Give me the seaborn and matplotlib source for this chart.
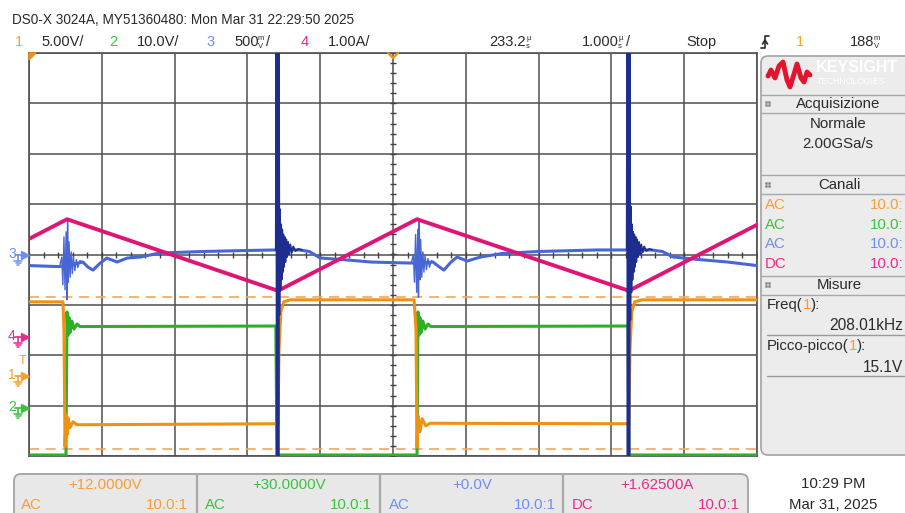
"""
Keysight DSO-X 3024A screen capture redrawn with seaborn/matplotlib.

Time axis is in screen divisions (1.000 us/div), levels are in screen
divisions too (8 vertical divisions, 0 = screen centre).
"""
import numpy as np
import pandas as pd
import matplotlib
matplotlib.use("Agg")
from matplotlib import pyplot, font_manager
from matplotlib.patches import FancyBboxPatch, Polygon
import seaborn

# ---- channel 1 (orange): switch node, 5.00 V/div
ch1_t = [0.00, 0.467, 0.480, 0.495, 0.508, 0.522, 0.536, 0.563, 0.604, 0.660, 3.390,
         3.420, 3.434, 3.460, 3.500, 3.585, 5.290, 5.316, 5.330, 5.343, 5.370, 5.400,
         5.450, 5.510, 8.230, 8.240, 8.255, 8.280, 8.320, 8.420, 10.00]
ch1_v = [-0.94, -0.94, -1.50, -3.82, -3.18, -3.58, -3.24, -3.44, -3.32, -3.38, -3.36,
         -3.36, -1.89, -1.14, -0.94, -0.90, -0.90, -1.50, -3.82, -3.20, -3.52, -3.26,
         -3.40, -3.35, -3.36, -3.36, -1.89, -1.14, -0.94, -0.90, -0.90]

# ---- channel 2 (green): 10.0 V/div
ch2_t = [0.00, 0.508, 0.522, 0.536, 0.550, 0.563, 0.590, 0.618, 0.660, 0.700, 3.390,
         3.407, 5.330, 5.343, 5.357, 5.370, 5.385, 5.410, 5.440, 5.480, 5.520, 8.230,
         8.240, 10.00]
ch2_v = [-3.98, -3.98, -1.14, -1.60, -1.25, -1.55, -1.32, -1.48, -1.38, -1.43, -1.42,
         -3.98, -3.98, -1.14, -1.60, -1.25, -1.55, -1.32, -1.48, -1.38, -1.43, -1.42,
         -3.98, -3.98]

# ---- channel 3 (blue): 500 mV/div, AC coupled
ch3_t = [0.00, 0.20, 0.42, 0.74, 0.81, 0.88, 0.97, 1.07, 1.21, 1.35, 1.53, 1.80, 2.40,
         3.00, 3.39, 3.72, 3.85, 4.00, 4.30, 4.70, 5.25, 5.55, 5.63, 5.70, 5.79, 5.88,
         6.02, 6.20, 6.50, 7.00, 7.80, 8.22, 8.55, 8.70, 8.85, 9.20, 9.60, 10.00]
ch3_v = [-0.22, -0.23, -0.24, -0.15, -0.25, -0.31, -0.18, -0.07, -0.15, -0.07, -0.05,
         0.03, 0.06, 0.08, 0.09, 0.09, 0.06, -0.07, -0.10, -0.15, -0.17, -0.15, -0.24,
         -0.31, -0.16, -0.05, -0.13, -0.05, 0.02, 0.06, 0.09, 0.09, 0.09, 0.06, -0.05,
         -0.10, -0.15, -0.22]

# small ringing bursts on ch3 (turn-off edges)
burst1_t = [0.42, 0.45, 0.465, 0.48, 0.495, 0.51, 0.52, 0.53, 0.54, 0.55, 0.565, 0.58,
            0.595, 0.61, 0.63, 0.65, 0.67, 0.70, 0.74]
burst1_v = [-0.24, -0.05, -0.60, 0.35, -0.70, 0.45, -0.90, 0.70, -0.55, 0.25, -0.45,
            0.05, -0.38, -0.05, -0.32, -0.10, -0.26, -0.12, -0.15]
burst2_t = [5.25, 5.28, 5.295, 5.31, 5.325, 5.34, 5.35, 5.36, 5.37, 5.38, 5.395, 5.41,
            5.425, 5.44, 5.46, 5.48, 5.50, 5.53, 5.55]
burst2_v = [-0.17, 0.00, -0.55, 0.40, -0.75, 0.50, -0.85, 0.70, -0.50, 0.30, -0.45,
            0.05, -0.35, -0.02, -0.30, -0.08, -0.25, -0.12, -0.15]

# big ringing spikes on ch3 (turn-on edges), run off screen
spike1_t = [3.390, 3.397, 3.403, 3.409, 3.415, 3.421, 3.427, 3.433, 3.440, 3.447, 3.455,
            3.463, 3.470, 3.478, 3.486, 3.494, 3.502, 3.512, 3.522, 3.534, 3.546, 3.560,
            3.575, 3.590, 3.610, 3.630, 3.660, 3.700, 3.750]
spike1_v = [0.09, 4.2, -4.2, 4.2, -4.2, 4.2, -4.2, 4.2, -1.2, 0.9, -0.7, 0.6, -0.5, 0.5,
            -0.35, 0.4, -0.25, 0.35, -0.15, 0.3, -0.05, 0.25, 0.0, 0.2, 0.04, 0.16, 0.07,
            0.11, 0.09]
spike2_t = [8.210, 8.217, 8.223, 8.229, 8.235, 8.241, 8.247, 8.253, 8.260, 8.267, 8.275,
            8.283, 8.290, 8.298, 8.306, 8.314, 8.322, 8.332, 8.342, 8.354, 8.366, 8.380,
            8.395, 8.410, 8.430, 8.450, 8.480, 8.520, 8.560]
spike2_v = [0.09, 4.2, -4.2, 4.2, -4.2, 4.2, -4.2, 4.2, -1.3, 0.95, -0.75, 0.6, -0.5,
            0.45, -0.35, 0.4, -0.25, 0.35, -0.15, 0.3, -0.05, 0.25, 0.0, 0.2, 0.04, 0.16,
            0.07, 0.11, 0.09]

# ---- channel 4 (magenta): inductor current, 1.00 A/div
ch4_t = [0.00, 0.522, 3.420, 5.330, 8.240, 10.00]
ch4_v = [0.31, 0.70, -0.72, 0.70, -0.72, 0.59]

# pk-pk measurement markers of ch1
marker_levels = [-0.84, -3.86]

# left side channel reference markers (screen divisions)
ref_labels = ["3", "4", "1", "2"]
ref_levels = [0.00, -1.63, -2.41, -3.04]
trig_level = -2.12

C1, C1T = "#ED9212", "#F5A030"
C2, C2T = "#2FAE2A", "#3CC23C"
C3, C3T = "#4866D6", "#6F8FEF"
C3D = "#1D2E8E"
C4, C4T = "#DF1575", "#EC2A8C"
TXT = "#2A2A2A"
REF_COLORS = [C3T, C4T, C1T, C2T]

seaborn.set_theme(style="white")
installed = {f.name for f in font_manager.fontManager.ttflist}
pyplot.rcParams["font.family"] = ["Liberation Sans", "DejaVu Sans"]
narrow = "Liberation Sans Narrow" in installed

W, H = 905, 513
fig = pyplot.figure(figsize=(W / 100, H / 100), dpi=100)
fig.patch.set_facecolor("white")

ax = fig.add_axes([29 / W, 1 - 456 / H, 728 / W, 403 / H])
ax.set_facecolor("white")
ax.set_xlim(0, 10)
ax.set_ylim(-4, 4)
ax.set_xticks(np.arange(0, 11))
ax.set_yticks(np.arange(-4, 5))
ax.grid(True, color="#505050", lw=1.1)
ax.tick_params(length=0, labelbottom=False, labelleft=False)
for sp in ax.spines.values():
    sp.set_color("#505050")
    sp.set_linewidth(1.2)

# fine graticule ticks on the centre axes
minor = np.arange(0, 10.01, 0.2)
ax.plot(minor, np.zeros_like(minor), ls="none", marker="|", ms=5, mew=1, color="#404040", zorder=1)
minor_y = np.arange(-4, 4.01, 0.2)
ax.plot(np.full_like(minor_y, 5.0), minor_y, ls="none", marker="_", ms=5, mew=1, color="#404040", zorder=1)

for lvl in marker_levels:
    ax.axhline(lvl, color="#F6A65A", lw=1.2, ls=(0, (6, 4)), zorder=2)


def draw(t, v, color, lw, z):
    df = pd.DataFrame({"t": t, "v": v})
    seaborn.lineplot(data=df, x="t", y="v", ax=ax, color=color, lw=lw, sort=False,
                     estimator=None, legend=False, zorder=z)


draw(ch2_t, ch2_v, C2, 2.2, 3)
draw(ch1_t, ch1_v, C1, 2.2, 4)
draw(ch3_t, ch3_v, C3, 2.2, 5)
draw(burst1_t, burst1_v, C3, 1.0, 6)
draw(burst2_t, burst2_v, C3, 1.0, 6)
draw(ch4_t, ch4_v, C4, 2.8, 7)
draw(spike1_t, spike1_v, C3D, 1.3, 8)
draw(spike2_t, spike2_v, C3D, 1.3, 8)
ax.set_xlabel("")
ax.set_ylabel("")

# ---- overlay in pixel units for all the screen furniture
ui = fig.add_axes([0, 0, 1, 1], zorder=5)
ui.set_xlim(0, W)
ui.set_ylim(H, 0)
ui.axis("off")
ui.patch.set_alpha(0)

FS = 10.8


def txt(x, y, s, color=TXT, ha="left", fs=FS, **kw):
    return ui.text(x, y, s, color=color, ha=ha, va="center", fontsize=fs, **kw)


def stacked(x, y, top, bottom, color=TXT):
    txt(x, y - 4, top, color=color, fs=5.5)
    txt(x, y + 4, bottom, color=color, fs=5.5)


if narrow:
    txt(12, 20, "DS0-X 3024A, MY51360480: Mon Mar 31 22:29:50 2025",
        family=["Liberation Sans Narrow", "DejaVu Sans"], fs=11.3)
else:
    txt(12, 20, "DS0-X 3024A, MY51360480: Mon Mar 31 22:29:50 2025", fs=9.8)

y2 = 42
txt(15, y2, "1", C1T, fs=10.5)
txt(41, y2, "5.00V/", fs=10.5)
txt(109, y2, "2", C2T, fs=10.5)
txt(137, y2, "10.0V/", fs=10.5)
txt(206, y2, "3", C3T, fs=10.5)
txt(234, y2, "500", fs=10.5)
stacked(258, y2, "m", "V")
txt(266, y2, "/", fs=10.5)
txt(301, y2, "4", C4T, fs=10.5)
txt(328, y2, "1.00A/", fs=10.5)
txt(489, y2, "233.2", fs=10.5)
stacked(526, y2, "µ", "s")
txt(582, y2, "1.000", fs=10.5)
stacked(618, y2, "µ", "s")
txt(626, y2, "/", fs=10.5)
txt(686, y2, "Stop", fs=10.5)
ui.plot([761, 765, 765, 769], [48, 48, 36, 36], color=TXT, lw=1.2)
ui.plot([762.5, 765, 767.5], [44, 40, 44], color=TXT, lw=1.2)
txt(796, y2, "1", C1T, fs=10.5)
txt(850, y2, "188", fs=10.5)
stacked(874, y2, "m", "V")

# trigger markers on the graticule edge
ui.add_patch(Polygon([[29, 53], [36, 53], [29, 60]], closed=True, color=C1, zorder=6))
ui.plot([388, 393, 398], [53, 58, 53], color=C1, lw=1.6)

# channel reference markers at the left
for lab, lvl, col in zip(ref_labels, ref_levels, REF_COLORS):
    y = 254.5 - lvl * 50.4
    txt(8, y - 1, lab, col, fs=10)
    ui.plot([15, 24], [y, y], color=col, lw=1.2)
    ui.plot([18, 18], [y, y + 6], color=col, lw=1.2)
    ui.plot([14, 22], [y + 6, y + 6], color=col, lw=1.1)
    ui.plot([15.5, 20.5], [y + 8, y + 8], color=col, lw=1.1)
    ui.plot([17, 19], [y + 10, y + 10], color=col, lw=1.1)
    ui.plot([25], [y], marker=">", ms=6, color=col, ls="none")
yt = 254.5 - trig_level * 50.4
txt(19, yt, "T", C1T, fs=9)

# ---- right hand side panel
ui.add_patch(FancyBboxPatch((761, 56), 170, 399, boxstyle="round,pad=0,rounding_size=7",
                            fc="#ECECEC", ec="#A2A2A2", lw=1.2))
logo_x = [768, 771, 775, 779, 783, 787, 790, 794, 797, 801, 804, 807, 810]
logo_y = [76, 70, 78, 66, 62, 80, 87, 74, 64, 78, 82, 72, 75]
ui.plot(logo_x, logo_y, color="#E2142E", lw=3.5, solid_capstyle="round", solid_joinstyle="round")
txt(816, 67, "KEYSIGHT", "white", fs=11.5, fontweight="bold")
txt(817, 81, "TECHNOLOGIES", "white", fs=6.2)

for yy in [95, 113, 175, 194, 276, 295]:
    ui.plot([761, 905], [yy, yy], color="#A8A8A8", lw=1)
for yy in [335, 376]:
    ui.plot([767, 905], [yy, yy], color="#9A9A9A", lw=1)
for yy in [104, 185, 285]:
    for dx in (0, 3):
        for dy in (-2, 1):
            ui.plot([766 + dx], [yy + dy], marker="s", ms=0.9, color="#888888")

txt(838, 104, "Acquisizione", ha="center")
txt(838, 124, "Normale", ha="center")
txt(838, 144, "2.00GSa/s", ha="center")
txt(839, 185, "Canali", ha="center")
for yy, cpl, col in zip([205, 225, 244, 264], ["AC", "AC", "AC", "DC"], [C1T, C2T, C3T, C4T]):
    txt(765, yy, cpl, col)
    txt(903, yy, "10.0:", col, ha="right")
txt(839, 285, "Misure", ha="center")
t1 = txt(767, 305, "Freq(")
a = ui.annotate("1", xy=(1, 0.5), xycoords=t1, va="center", color=C1T, fontsize=FS)
ui.annotate("):", xy=(1, 0.5), xycoords=a, va="center", color=TXT, fontsize=FS)
txt(903, 326, "208.01kHz", fs=11.2, ha="right")
t2 = txt(767, 346, "Picco-picco(")
b = ui.annotate("1", xy=(1, 0.5), xycoords=t2, va="center", color=C1T, fontsize=FS)
ui.annotate("):", xy=(1, 0.5), xycoords=b, va="center", color=TXT, fontsize=FS)
txt(903, 367, "15.1V", fs=11.2, ha="right")

# ---- channel info boxes along the bottom
ui.add_patch(FancyBboxPatch((14, 474), 734, 70, boxstyle="round,pad=0,rounding_size=7",
                            fc="#E8E8E8", ec="#A8A8A8", lw=1.4))
for xx in [197, 380, 563]:
    ui.plot([xx, xx], [474, 513], color="#A8A8A8", lw=1.6)
offsets = ["+12.0000V", "+30.0000V", "+0.0V", "+1.62500A"]
couplings = ["AC", "AC", "AC", "DC"]
box_left = [21, 205, 389, 572]
box_right = [188, 372, 556, 740]
box_mid = [105, 289, 472, 657]
for off, cpl, l, r, m, col in zip(offsets, couplings, box_left, box_right, box_mid,
                                  [C1T, C2T, C3T, C4T]):
    txt(m, 485, off, col, ha="center")
    txt(l, 505, cpl, col)
    txt(r, 505, "10.0:1", col, ha="right")

txt(833, 484, "10:29 PM", ha="center")
txt(833, 505, "Mar 31, 2025", ha="center")

fig.savefig("out.png", dpi=100, facecolor="white")
